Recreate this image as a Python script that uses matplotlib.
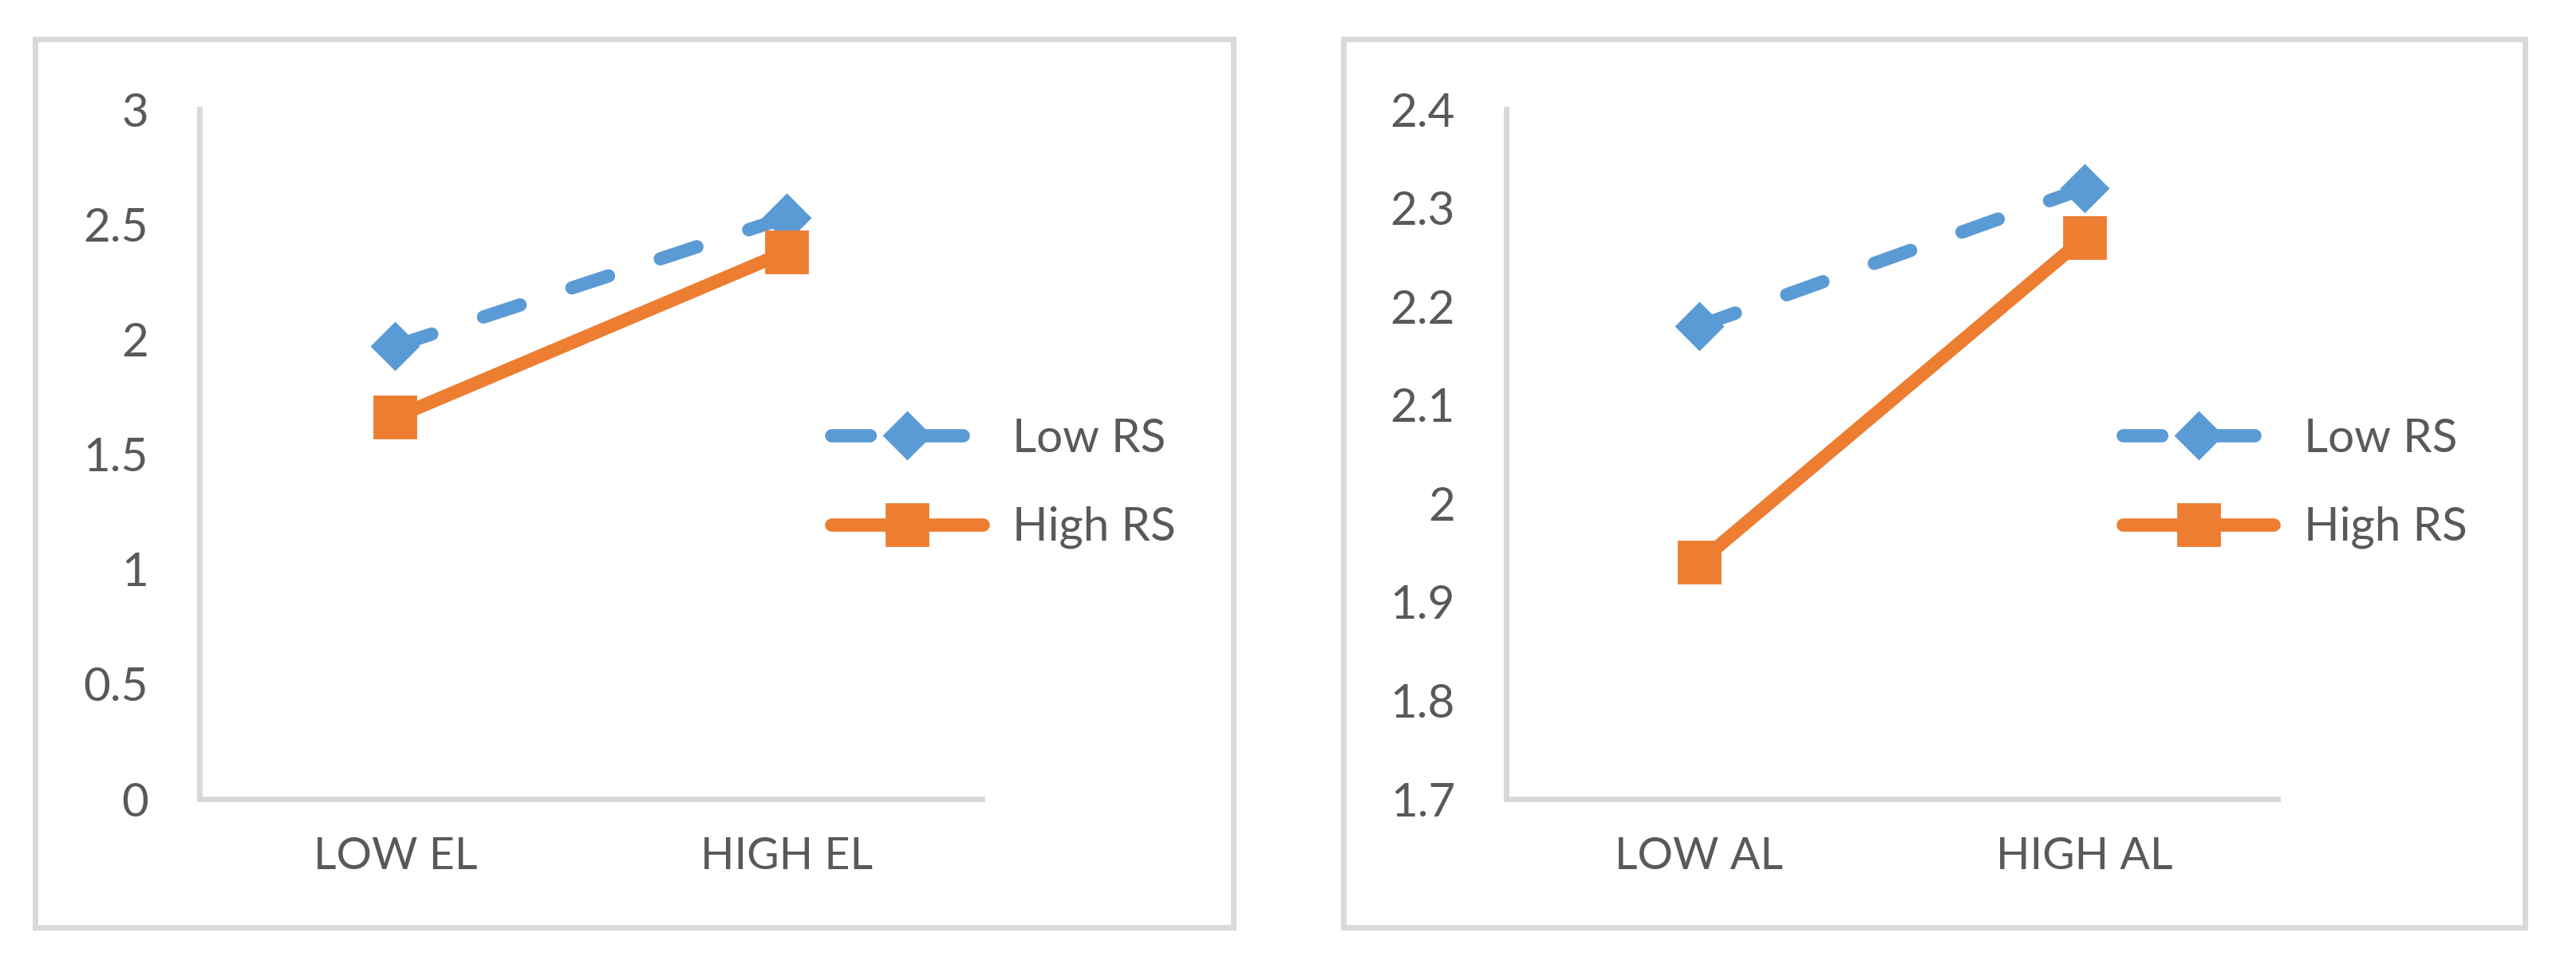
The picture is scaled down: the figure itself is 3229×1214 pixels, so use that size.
import matplotlib
matplotlib.use("Agg")
import matplotlib.pyplot as plt
from matplotlib.patches import Rectangle

plt.rcParams['font.family'] = ['Lato', 'DejaVu Sans']

# data
el_cats = ["LOW EL", "HIGH EL"]
el_low_rs = [1.97, 2.53]
el_high_rs = [1.66, 2.38]
el_ticks = [0, 0.5, 1, 1.5, 2, 2.5, 3]
el_ticklabels = ["0", "0.5", "1", "1.5", "2", "2.5", "3"]

al_cats = ["LOW AL", "HIGH AL"]
al_low_rs = [2.18, 2.32]
al_high_rs = [1.94, 2.27]
al_ticks = [1.7, 1.8, 1.9, 2.0, 2.1, 2.2, 2.3, 2.4]
al_ticklabels = ["1.7", "1.8", "1.9", "2", "2.1", "2.2", "2.3", "2.4"]

series_names = ["Low RS", "High RS"]

BLUE = "#5B9BD5"
ORANGE = "#ED7D31"
GREY_TXT = "#595959"
GREY_LN = "#D9D9D9"

W, H = 3230, 1214
DPI = 200
fig = plt.figure(figsize=(W / DPI, H / DPI), dpi=DPI)


def panel(ax_rect, frame_rect, cats, low, high, ticks, ticklabels, ylim, leg_x):
	# outer chart frame
	fig.patches.append(Rectangle(frame_rect[:2], frame_rect[2], frame_rect[3],
		transform=fig.transFigure, fill=False, edgecolor=GREY_LN, lw=2.5))
	ax = fig.add_axes(ax_rect)
	x = list(range(len(cats)))
	ax.plot(x, low, color=BLUE, lw=6, dashes=(2.9, 4.1), dash_capstyle='round',
		solid_capstyle='round', marker='D', markersize=15, clip_on=False,
		label=series_names[0], zorder=3)
	ax.plot(x, high, color=ORANGE, lw=6, solid_capstyle='round',
		marker='s', markersize=19, clip_on=False, label=series_names[1], zorder=4)
	ax.set_xlim(-0.5, len(cats) - 0.5)
	ax.set_ylim(*ylim)
	ax.set_yticks(ticks)
	ax.set_yticklabels(ticklabels)
	ax.set_xticks(x)
	ax.set_xticklabels(cats)
	for s in ["top", "right"]:
		ax.spines[s].set_visible(False)
	for s in ["left", "bottom"]:
		ax.spines[s].set_color(GREY_LN)
		ax.spines[s].set_linewidth(2.5)
	ax.tick_params(axis='y', length=0, pad=23, labelsize=21, labelcolor=GREY_TXT)
	ax.tick_params(axis='x', length=0, pad=17, labelsize=20, labelcolor=GREY_TXT)
	ax.set_facecolor('none')
	fig.legend(handles=ax.get_lines(), loc='center left',
		bbox_to_anchor=(leg_x, 0.5008), bbox_transform=fig.transFigure,
		frameon=False, fontsize=21, labelcolor=GREY_TXT, numpoints=1,
		handlelength=3.25, handletextpad=0.65, labelspacing=1.0,
		borderpad=0, borderaxespad=0)
	return ax


panel([0.0774, 0.1746, 0.3037, 0.7125], (0.01362, 0.0420, 0.4650, 0.9180),
	el_cats, el_low_rs, el_high_rs, el_ticks, el_ticklabels, (0, 3), 0.3226)
panel([0.5845, 0.1746, 0.2994, 0.7125], (0.5214, 0.0420, 0.4584, 0.9180),
	al_cats, al_low_rs, al_high_rs, al_ticks, al_ticklabels, (1.7, 2.4), 0.8238)

fig.savefig("out.png", dpi=DPI)
